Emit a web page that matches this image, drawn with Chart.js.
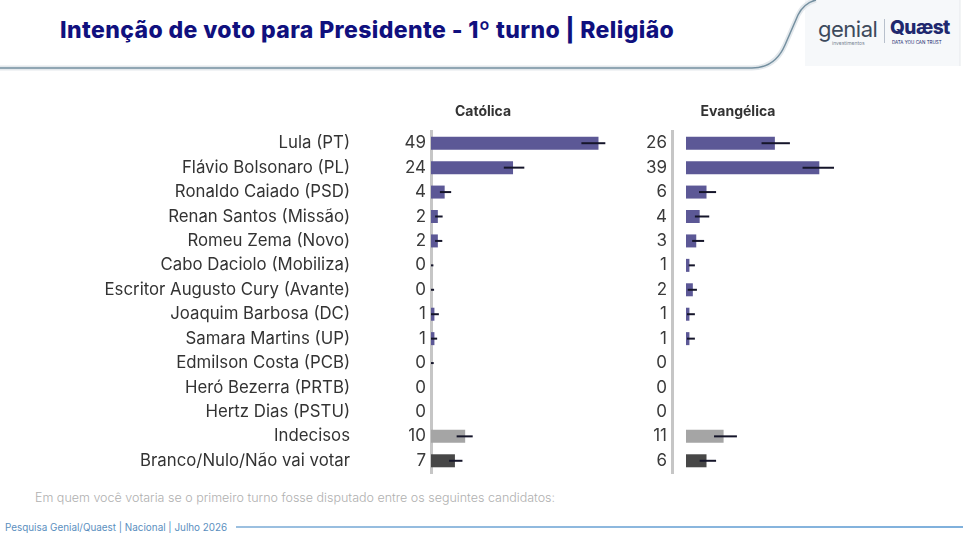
<!DOCTYPE html>
<html>
<head>
<meta charset="utf-8">
<script src="https://cdn.jsdelivr.net/npm/chart.js@4"></script>
<style>
  body { margin: 0; width: 963px; height: 541px; background: #fff; position: relative; overflow: hidden; font-family: Inter, sans-serif; }
  #title { position: absolute; left: 60px; top: 16px; font-size: 23px; font-weight: 800; color: #10107e; letter-spacing: 0.4px; white-space: nowrap; }
  #header { position: absolute; left: 0; top: 0; }
  #logo { position: absolute; left: 818px; top: 16px; width: 140px; height: 30px; }
  #logo .g { position: absolute; left: 0; top: 0; font-size: 22px; color: #3d4a5c; letter-spacing: -0.5px; }
  #logo .gi { position: absolute; left: 14px; top: 24px; font-size: 5px; color: #7a8594; }
  #logo .sep { position: absolute; left: 66px; top: 3px; width: 1px; height: 24px; background: #b8c0cc; }
  #logo .q { position: absolute; left: 72px; top: 0; font-size: 19px; font-weight: 800; color: #20286e; letter-spacing: -0.5px; }
  #logo .qs { position: absolute; left: 74px; top: 24px; font-size: 4.5px; color: #20286e; }
  #c1 { position: absolute; left: 0; top: 95px; }
  #c2 { position: absolute; left: 620px; top: 95px; }
  #note { position: absolute; left: 35px; top: 490px; font-size: 12.5px; color: #b0b0b0; font-weight: 300; white-space: nowrap; }
  #src { position: absolute; left: 5px; top: 521px; font-size: 9.9px; color: #5b8fc0; white-space: nowrap; }
  #srcline { position: absolute; left: 236px; top: 526px; width: 727px; height: 2px; background: linear-gradient(to right, #9cc0e0, #7fb0dc); }
</style>
</head>
<body>
<svg id="header" width="963" height="80">
  <rect x="805" y="0" width="155" height="66" fill="#f6f8fa"/>
  <line x1="960" y1="0" x2="960" y2="66" stroke="#e6e9ec" stroke-width="1"/>
  <path d="M0 68 L752 68 Q775 68 785 45 L798 15 Q804 3 816 0" fill="none" stroke="#e3e8ec" stroke-width="5"/>
  <path d="M0 68 L752 68 Q775 68 785 45 L798 15 Q804 3 816 0" fill="none" stroke="#7590a0" stroke-width="1.5"/>
</svg>
<div id="title">Intenção de voto para Presidente - 1º turno | Religião</div>
<div id="logo">
  <div class="g">genial</div><div class="gi">investimentos</div>
  <div class="sep"></div>
  <div class="q">Quæst</div><div class="qs">DATA YOU CAN TRUST</div>
</div>
<canvas id="c1" width="620" height="395"></canvas>
<canvas id="c2" width="343" height="395"></canvas>
<div id="note">Em quem você votaria se o primeiro turno fosse disputado entre os seguintes candidatos:</div>
<div id="src">Pesquisa Genial/Quaest | Nacional | Julho 2026</div>
<div id="srcline"></div>
<script>
const candidates = ['Lula (PT)', 'Flávio Bolsonaro (PL)', 'Ronaldo Caiado (PSD)', 'Renan Santos (Missão)',
  'Romeu Zema (Novo)', 'Cabo Daciolo (Mobiliza)', 'Escritor Augusto Cury (Avante)', 'Joaquim Barbosa (DC)',
  'Samara Martins (UP)', 'Edmilson Costa (PCB)', 'Heró Bezerra (PRTB)', 'Hertz Dias (PSTU)',
  'Indecisos', 'Branco/Nulo/Não vai votar'];

const catolica = [49, 24, 4, 2, 2, 0, 0, 1, 1, 0, 0, 0, 10, 7];
const catolicaLow = [44, 21.3, 2.6, 1.2, 1.2, 0, 0, 0, 0, 0, null, null, 7.5, 5.3];
const catolicaHigh = [51, 27.3, 5.9, 3.4, 3.3, 0.7, 0.9, 2.3, 1.8, 0.8, null, null, 12.2, 9.2];

const evangelica = [26, 39, 6, 4, 3, 1, 2, 1, 1, 0, 0, 0, 11, 6];
const evangelicaLow = [22.1, 34.1, 3.8, 2.6, 1.8, 0.8, 0.5, 0.3, 0.3, null, null, null, 8.2, 4];
const evangelicaHigh = [30.4, 43.3, 8.8, 6.8, 5.3, 2.6, 3.2, 2.6, 2.6, null, null, null, 14.9, 8.8];

const barColors = candidates.map((c, i) => i === 12 ? '#a5a5a5' : i === 13 ? '#474747' : '#5c5896');

function panel(id, title, values, low, high, showNames, axisLeft, padRight) {
  const panelTitle = {
    id: 'panelTitle',
    afterDraw(chart) {
      const ctx = chart.ctx, area = chart.chartArea;
      ctx.save();
      ctx.font = 'bold 14px Inter';
      ctx.fillStyle = '#333';
      ctx.textAlign = 'center';
      ctx.textBaseline = 'middle';
      ctx.fillText(title, area.left + 52, area.top - 19);
      ctx.restore();
    }
  };
  const scales = {
    x: { min: 0, max: 55, display: false },
    // value labels sit on an inner axis next to the bars
    v: {
      type: 'category', axis: 'y', position: 'left', weight: 0, z: 1,
      labels: values.map(String),
      offset: true,
      afterFit(scale) { scale.width = showNames ? 80 : axisLeft; },
      grid: { display: false, drawTicks: false },
      border: { display: true, color: '#c6c6c6', width: 3 },
      ticks: { padding: 5, color: '#3a3a3a', font: { family: 'Inter', size: 17 } }
    },
    y: {
      position: 'left', weight: 1,
      display: showNames,
      afterFit(scale) { scale.width = axisLeft - 80; },
      grid: { display: false, drawTicks: false },
      border: { display: false },
      ticks: { padding: 1, color: '#333', font: { family: 'Inter', size: 16.8 } }
    }
  };
  return new Chart(document.getElementById(id), {
    type: 'bar',
    data: {
      labels: candidates,
      datasets: [
        { data: low.map((l, i) => l === null ? null : [l, high[i]]), backgroundColor: '#15152a',
          barThickness: 2, grouped: false, order: 0, inflateAmount: 0 },
        { data: values, backgroundColor: barColors, barThickness: 13, grouped: false, order: 1, inflateAmount: 0 }
      ]
    },
    options: {
      indexAxis: 'y',
      responsive: false,
      animation: false,
      layout: { padding: { top: 36, bottom: 17, left: 0, right: padRight } },
      plugins: { legend: { display: false }, tooltip: { enabled: false } },
      scales
    },
    plugins: [panelTitle]
  });
}

panel('c1', 'Católica', catolica, catolicaLow, catolicaHigh, true, 431, 1);
panel('c2', 'Evangélica', evangelica, evangelicaLow, evangelicaHigh, false, 66, 89);
</script>
</body>
</html>
